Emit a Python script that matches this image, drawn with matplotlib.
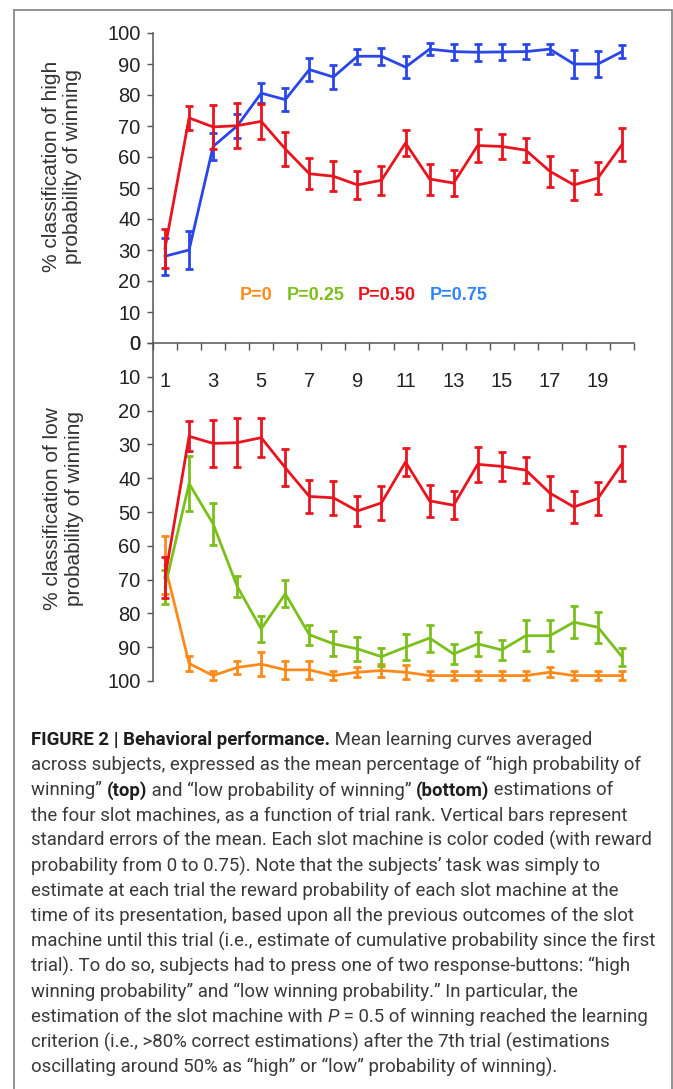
import matplotlib
matplotlib.use("Agg")
import matplotlib.pyplot as plt
from matplotlib import font_manager
from matplotlib.patches import Rectangle
import numpy as np

# ---- data (percent, mean and s.e.m.) ----
trials = np.arange(1, 21)

high_p075 = [28, 30, 63.4, 70, 80.6, 78.5, 88.2, 85.8, 92.5, 92.5,
             89, 94.8, 94, 93.8, 93.9, 94, 94.8, 90, 90, 94]
high_p075_err = [6, 6, 4.5, 4, 3.3, 3.6, 3.8, 3.9, 2.4, 2.7,
                 3.6, 2, 2.6, 2.7, 2.5, 2.5, 1.7, 4.5, 4.3, 2.2]
high_p050 = [30.6, 72.6, 69.7, 70.1, 71.5, 62.6, 54.6, 53.8, 51, 52.5,
             64.5, 52.9, 51.6, 63.7, 63.4, 62.2, 55.4, 51, 53.2, 64]
high_p050_err = [6.3, 4, 7, 7.3, 5.7, 5.4, 5, 4.8, 4.6, 4.7,
                 4.3, 5, 4.2, 5.3, 4.1, 3.9, 5, 4.8, 5.2, 5.2]

low_p050 = [69.3, 27.6, 29.7, 29.5, 28, 36.9, 45.4, 45.8, 49.7, 47.3,
            35.2, 46.7, 48, 35.9, 36.5, 37.6, 44.4, 48.5, 46, 35.7]
low_p050_err = [6, 4.5, 7, 7.2, 5.8, 5.5, 4.8, 5, 4.5, 5,
                4.1, 4.8, 4.1, 5.1, 4.2, 3.8, 5, 4.7, 5, 5.2]
low_p025 = [72.2, 41.6, 53.5, 72, 84.6, 74.2, 86.3, 89, 90.5, 92.8,
            90, 87.3, 92, 89, 90.8, 86.6, 86.6, 82.6, 84.1, 92.8]
low_p025_err = [5, 8.2, 6.2, 3.2, 3.9, 4, 3, 3.7, 3.5, 2.7,
                3.8, 4, 3, 3.5, 3, 4.5, 4.5, 4.7, 4.6, 2.7]
low_p0 = [65.8, 94.8, 98.4, 96, 95, 96.7, 96.7, 98.4, 97.4, 96.9,
          97.4, 98.4, 98.4, 98.4, 98.4, 98.4, 97.4, 98.4, 98.4, 98.4]
low_p0_err = [8.6, 2.2, 1.4, 2, 3.6, 2.7, 2.7, 1.3, 1.5, 2,
              2, 1.3, 1.3, 1.3, 1.3, 1.3, 1.5, 1.3, 1.3, 1.3]

legend_labels = ["P=0", "P=0.25", "P=0.50", "P=0.75"]
yticks = np.arange(0, 101, 10)
xlabel_ticks = np.arange(1, 20, 2)

C_ORANGE = "#ff8a1a"
C_GREEN = "#7bbf1c"
C_RED = "#e8141e"
C_BLUE = "#2b46e8"
C_BLUE_TXT = "#2f86f6"
legend_colors = [C_ORANGE, C_GREEN, C_RED, C_BLUE_TXT]

W, H = 673, 1089
fig = plt.figure(figsize=(W / 100, H / 100), dpi=100)
fig.patch.set_facecolor("white")


def fx(x):
    return x / W


def fy(y):
    return 1 - y / H


plt.rcParams["font.family"] = ["Liberation Sans", "DejaVu Sans"]

ax_left, ax_right = 153, 634
ax_top = fig.add_axes([fx(ax_left), fy(343), (ax_right - ax_left) / W, (343 - 33) / H])
ax_bot = fig.add_axes([fx(ax_left), fy(681), (ax_right - ax_left) / W, (681 - 343) / H])
for a in (ax_top, ax_bot):
    a.set_facecolor("none")
    a.set_xlim(0.5, 20.5)
    for s in ("top", "right"):
        a.spines[s].set_visible(False)
    a.spines["left"].set_color("#555555")
    a.spines["left"].set_linewidth(1.1)
    a.set_yticks(yticks)
    a.tick_params(axis="y", direction="out", length=4, width=1, color="#555555",
                  labelsize=14.5, pad=5, labelcolor="#222222")

err_kw = dict(lw=2.0, elinewidth=2.0, capsize=3, capthick=2.0)

# top: "high probability of winning"
ax_top.errorbar(trials, high_p075, yerr=high_p075_err, color=C_BLUE, zorder=3, **err_kw)
ax_top.errorbar(trials, high_p050, yerr=high_p050_err, color=C_RED, zorder=4, **err_kw)
ax_top.set_ylim(0, 100)
ax_top.spines["bottom"].set_color("#555555")
ax_top.spines["bottom"].set_linewidth(1.1)
ax_top.set_xticks(np.arange(0.5, 21, 1))
ax_top.set_xticklabels([])
ax_top.tick_params(axis="x", which="major", direction="out", length=5, width=1, color="#555555")
ax_top.set_xticks(xlabel_ticks, [str(t) for t in xlabel_ticks], minor=True)
ax_top.tick_params(axis="x", which="minor", length=0, pad=21, labelsize=14.5, labelcolor="#222222")
ax_top.set_zorder(2)

# bottom: "low probability of winning", inverted axis
ax_bot.errorbar(trials, low_p0, yerr=low_p0_err, color=C_ORANGE, zorder=3, **err_kw)
ax_bot.errorbar(trials, low_p025, yerr=low_p025_err, color=C_GREEN, zorder=4, **err_kw)
ax_bot.errorbar(trials, low_p050, yerr=low_p050_err, color=C_RED, zorder=5, **err_kw)
ax_bot.set_ylim(100, 0)
ax_bot.spines["bottom"].set_visible(False)
ax_bot.set_xticks([])

# y labels
lab_kw = dict(rotation=90, ha="center", va="center", fontsize=15, color="#333333")
fig.text(fx(52), fy(166), "% classification of high", **lab_kw)
fig.text(fx(73), fy(166), "probability of winning", **lab_kw)
fig.text(fx(53), fy(509), "% classification of low", **lab_kw)
fig.text(fx(75), fy(509), "probability of winning", **lab_kw)

# colour key
for lab, col, xl in zip(legend_labels, legend_colors, [240, 287, 358, 430]):
    fig.text(fx(xl), fy(295), lab, color=col, fontsize=13, fontweight="bold",
             ha="left", va="center")

# frame around the figure panel
fig.add_artist(Rectangle((fx(14), -0.02), (672 - 14) / W, fy(10) + 0.02,
                         transform=fig.transFigure, fill=False, ec="#8a8a8a", lw=1.3))

# ---- caption ----
_names = {f.name for f in font_manager.fontManager.ttflist}
cap_font = "Liberation Sans Narrow" if "Liberation Sans Narrow" in _names else "Roboto"
cap_family = [cap_font, "DejaVu Sans"]

caption = [
    [("FIGURE 2 | Behavioral performance.", "b"), (" Mean learning curves averaged", "n")],
    [("across subjects, expressed as the mean percentage of \u201chigh probability of", "n")],
    [("winning\u201d ", "n"), ("(top)", "b"), (" and \u201clow probability of winning\u201d ", "n"),
     ("(bottom)", "b"), (" estimations of", "n")],
    [("the four slot machines, as a function of trial rank. Vertical bars represent", "n")],
    [("standard errors of the mean. Each slot machine is color coded (with reward", "n")],
    [("probability from 0 to 0.75). Note that the subjects\u2019 task was simply to", "n")],
    [("estimate at each trial the reward probability of each slot machine at the", "n")],
    [("time of its presentation, based upon all the previous outcomes of the slot", "n")],
    [("machine until this trial (i.e., estimate of cumulative probability since the first", "n")],
    [("trial). To do so, subjects had to press one of two response-buttons: \u201chigh", "n")],
    [("winning probability\u201d and \u201clow winning probability.\u201d In particular, the", "n")],
    [("estimation of the slot machine with ", "n"), ("P", "i"),
     (" = 0.5 of winning reached the learning", "n")],
    [("criterion (i.e., >80% correct estimations) after the 7th trial (estimations", "n")],
    [("oscillating around 50% as \u201chigh\u201d or \u201clow\u201d probability of winning).", "n")],
]

renderer = fig.canvas.get_renderer()
cap_x0, cap_y0, cap_dy = 31, 740, 25.2
cap_size = 14.5
cap_texts = []


def layout(size):
    widest = 0
    for row in cap_texts:
        x = cap_x0
        for t in row:
            t.set_fontsize(size)
            t.set_x(fx(x))
            bb = t.get_window_extent(renderer)
            x += bb.width
        widest = max(widest, x - cap_x0)
    return widest


for i, row in enumerate(caption):
    objs = []
    for txt, style in row:
        kw = dict(fontsize=cap_size, family=cap_family, va="center", ha="left",
                  color="#3a3a3a")
        if style == "b":
            kw.update(fontweight="bold", color="#1e1e1e")
        elif style == "i":
            kw.update(style="italic")
        objs.append(fig.text(fx(cap_x0), fy(cap_y0 + i * cap_dy), txt, **kw))
    cap_texts.append(objs)

widest = layout(cap_size)
cap_size = cap_size * 624 / widest
layout(cap_size)

fig.savefig("out.png", dpi=100, facecolor="white")
